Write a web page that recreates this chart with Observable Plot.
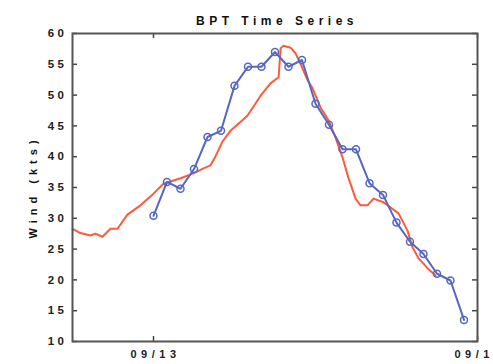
<!DOCTYPE html>
<html>
<head>
<meta charset="utf-8">
<script src="https://cdn.jsdelivr.net/npm/d3@7"></script>
<script src="https://cdn.jsdelivr.net/npm/@observablehq/plot@0.6"></script>
<style>
  html, body { margin: 0; padding: 0; background: #fff; overflow: hidden; }
  svg { display: block; }
  g[aria-label="y-axis tick label"] text { letter-spacing: 3.5px; }
  g[aria-label="x-axis tick label"] text { letter-spacing: 4.5px; }
</style>
</head>
<body>
<div id="chart"></div>
<script>
const title = "BPT Time Series";
const yLabel = "Wind (kts)";

// Observed (blue, hourly points)
const obsTimes = [
  "2000-09-13T00:00Z","2000-09-13T01:00Z","2000-09-13T02:00Z","2000-09-13T03:00Z",
  "2000-09-13T04:00Z","2000-09-13T05:00Z","2000-09-13T06:00Z","2000-09-13T07:00Z",
  "2000-09-13T08:00Z","2000-09-13T09:00Z","2000-09-13T10:00Z","2000-09-13T11:00Z",
  "2000-09-13T12:00Z","2000-09-13T13:00Z","2000-09-13T14:00Z","2000-09-13T15:00Z",
  "2000-09-13T16:00Z","2000-09-13T17:00Z","2000-09-13T18:00Z","2000-09-13T19:00Z",
  "2000-09-13T20:00Z","2000-09-13T21:00Z","2000-09-13T22:00Z","2000-09-13T23:00Z"
];
const obsWind = [30.4, 35.9, 34.8, 38.0, 43.2, 44.2, 51.5, 54.6, 54.6, 57.0, 54.6, 55.7,
                 48.6, 45.2, 41.2, 41.2, 35.7, 33.8, 29.3, 26.2, 24.2, 21.0, 19.9, 13.5];

// Model (red line)
const modelTimes = [
  "2000-09-12T18:00Z","2000-09-12T18:35Z","2000-09-12T19:20Z","2000-09-12T19:42Z",
  "2000-09-12T20:13Z","2000-09-12T20:49Z","2000-09-12T21:20Z","2000-09-12T22:04Z",
  "2000-09-12T23:02Z","2000-09-13T00:00Z","2000-09-13T00:44Z","2000-09-13T02:00Z",
  "2000-09-13T02:58Z","2000-09-13T03:42Z","2000-09-13T04:13Z","2000-09-13T04:35Z",
  "2000-09-13T05:07Z","2000-09-13T05:42Z","2000-09-13T06:35Z","2000-09-13T06:58Z",
  "2000-09-13T07:56Z","2000-09-13T08:40Z","2000-09-13T09:16Z","2000-09-13T09:25Z",
  "2000-09-13T09:38Z","2000-09-13T10:09Z","2000-09-13T10:31Z","2000-09-13T10:53Z",
  "2000-09-13T11:25Z","2000-09-13T11:47Z","2000-09-13T12:22Z","2000-09-13T12:58Z",
  "2000-09-13T13:29Z","2000-09-13T14:00Z","2000-09-13T14:26Z","2000-09-13T14:58Z",
  "2000-09-13T15:20Z","2000-09-13T15:51Z","2000-09-13T16:18Z","2000-09-13T17:02Z",
  "2000-09-13T18:09Z","2000-09-13T18:49Z","2000-09-13T19:11Z","2000-09-13T19:38Z",
  "2000-09-13T20:18Z","2000-09-13T20:53Z"
];
const modelWind = [28.3, 27.6, 27.2, 27.5, 27.0, 28.3, 28.3, 30.6, 32.1, 34.0, 35.6, 36.5,
                   37.3, 38.1, 38.6, 40.0, 42.5, 44.2, 45.9, 46.7, 49.9, 51.9, 52.9, 57.6,
                   58.0, 57.7, 56.8, 55.1, 52.4, 51.1, 48.0, 45.9, 43.1, 39.9, 36.6, 33.2,
                   32.1, 32.1, 33.2, 32.6, 30.8, 28.0, 25.3, 23.5, 21.9, 20.7];

const xDomain = ["2000-09-12T18:00Z", "2000-09-14T00:00Z"];
const xTicks = ["2000-09-13T00:00Z", "2000-09-14T00:00Z"];
const yTicks = [10, 15, 20, 25, 30, 35, 40, 45, 50, 55, 60];

const obs = obsTimes.map((t, i) => ({t: new Date(t), v: obsWind[i]}));
const model = modelTimes.map((t, i) => ({t: new Date(t), v: modelWind[i]}));
const xt = xTicks.map(d => new Date(d));

const W = 493, H = 364, ML = 72, MR = 16, MT = 33, MB = 23, TICK = 5;
const fw = W - ML - MR, fh = H - MT - MB;
const fontFam = "'Liberation Sans', 'DejaVu Sans', sans-serif";
const tk = {stroke: "#444", strokeWidth: 1.5};

const chart = Plot.plot({
  width: W,
  height: H,
  marginLeft: ML,
  marginRight: MR,
  marginTop: MT,
  marginBottom: MB,
  style: {fontFamily: fontFam, fontSize: "11px", fontWeight: "bold", background: "#fff", overflow: "visible"},
  x: {type: "utc", domain: xDomain.map(d => new Date(d))},
  y: {domain: [10, 60]},
  marks: [
    Plot.line(model, {x: "t", y: "v", stroke: "#ff5a3c", strokeWidth: 2}),
    Plot.line(obs, {x: "t", y: "v", stroke: "#5566c4", strokeWidth: 2}),
    Plot.dot(obs, {x: "t", y: "v", r: 3.5, stroke: "#5566c4", strokeWidth: 1.5, fill: "none"}),
    // inward ticks
    Plot.tickY(yTicks, {y: d => d, insetRight: fw - TICK, ...tk}),
    Plot.tickY(yTicks, {y: d => d, insetLeft: fw - TICK, ...tk}),
    Plot.tickX(xt, {x: d => d, insetTop: fh - TICK, ...tk}),
    Plot.tickX(xt, {x: d => d, insetBottom: fh - TICK, ...tk}),
    Plot.axisY({anchor: "left", ticks: yTicks, tickSize: 0, tickPadding: 5, label: null,
                fill: "#222", fontSize: 11.5}),
    Plot.axisX({anchor: "bottom", ticks: xt, tickSize: 0, tickPadding: 9, dx: 2, label: null,
                tickFormat: d3.utcFormat("%m/%d"), fill: "#222", fontSize: 11}),
    Plot.frame({stroke: "#555", strokeWidth: 2}),
    Plot.text([title], {frameAnchor: "top", dy: -17, dx: 2, text: d => d, fontSize: 12, fontWeight: "bold",
                        fill: "#111"}),
    Plot.text([yLabel], {frameAnchor: "left", dx: -39, dy: 51, rotate: -90, textAnchor: "start",
                         text: d => d, fontSize: 11, fontWeight: "bold", fill: "#111"})
  ]
});
d3.select(chart).selectAll("text").each(function() {
  const s = this.textContent;
  if (s === title) d3.select(this).attr("letter-spacing", "4.5px");
  if (s === yLabel) d3.select(this).attr("letter-spacing", "5px");
});
document.getElementById("chart").appendChild(chart);
</script>
</body>
</html>
